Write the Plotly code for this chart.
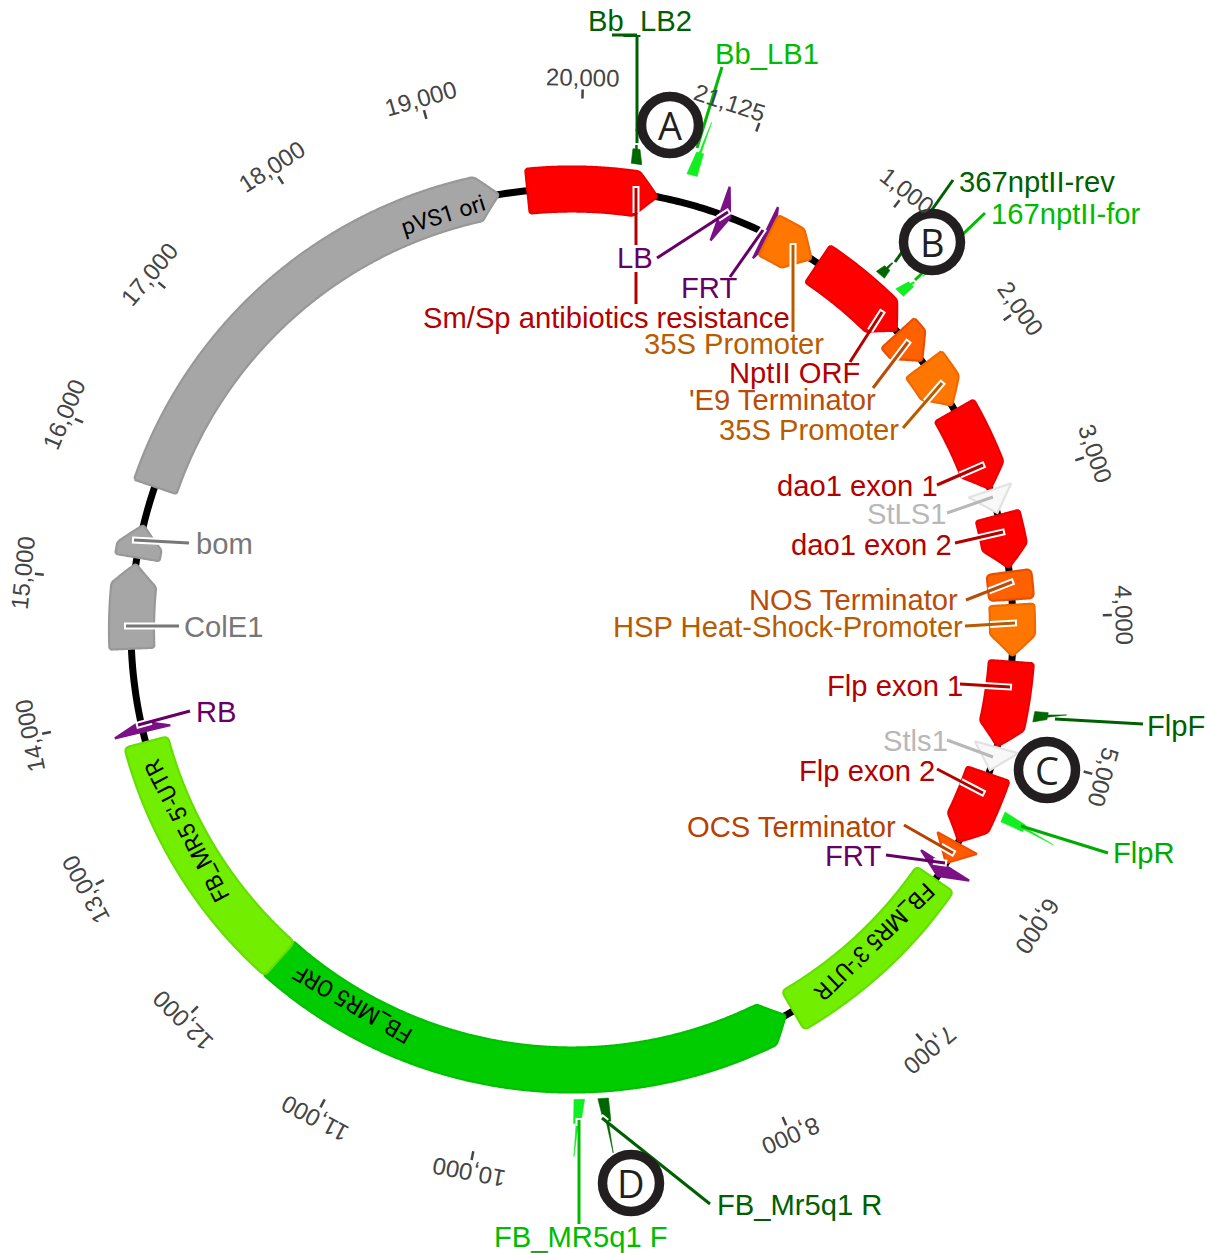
import numpy as np
import plotly.graph_objects as go

W, H = 1207, 1253
CX, CY, RMAX = 572.0, 629.5, 560.0
PLASMID_BP = 21125
ZERO_DEG = 20.3          # clock angle of bp 0
R_OUT, R_IN, R_MID = 463, 418, 441

# ---- features (bp)
feature_names = ["Sm/Sp", "LB", "FRT a", "35S a", "NptII", "E9", "35S b", "dao1 e1", "StLS1", "dao1 e2", "NOS", "HSP",
                 "Flp e1", "Stls1", "Flp e2", "OCS", "FRT b", "3UTR", "ORF", "5UTR", "RB", "ColE1", "bom", "pVS1"]
feature_start = [19593, 21084, 334, 364, 798, 1608, 1919, 2341, 3010, 3210, 3650, 3902,
                 4336, 5000, 5211, 5792, 5985, 6115, 7669, 11812, 13866, 14506, 15204, 15761]
feature_end = [20591, 41, 411, 739, 1590, 1890, 2300, 3004, 3192, 3621, 3861, 4295,
               4994, 5182, 5780, 5968, 6085, 7605, 11824, 13784, 13948, 15157, 15457, 19376]
feature_kind = ["arrow", "site", "site", "arrow", "arrow", "arrow", "arrow", "arrow", "tri", "arrow", "box", "arrow",
                "arrow", "tri", "arrow", "tri", "site", "box", "rev", "box", "site", "arrow", "arrow", "arrow"]
feature_fill = ["#ff0000", "#7b1185", "#7b1185", "#ff7700", "#ff0000", "#ff6000", "#ff7700", "#ff0000", "#f8f8f8", "#ff0000", "#ff6000", "#ff7700",
                "#ff0000", "#f8f8f8", "#ff0000", "#ff5a00", "#7b1185", "#72ee00", "#00cc00", "#72ee00", "#7b1185", "#a6a6a6", "#a6a6a6", "#a6a6a6"]
feature_line = ["#ea0000", "#7b1185", "#7b1185", "#f06800", "#ea0000", "#e85000", "#f06800", "#ea0000", "#e2e2e2", "#ea0000", "#e85000", "#f06800",
                "#ea0000", "#e2e2e2", "#ea0000", "#ee5000", "#7b1185", "#66de00", "#00c000", "#66de00", "#7b1185", "#989898", "#989898", "#989898"]

# ---- primers (bp of base, bp of tip, tip radius)
primer_names = ["Bb_LB2", "Bb_LB1", "367nptII-rev", "167nptII-for", "FlpF", "FlpR", "FB_MR5q1 F", "FB_Mr5q1 R"]
primer_base = [20397, 20802, 1215, 1402, 4718, 5469, 9319, 9148]
primer_tip = [20362, 20837, 1227, 1444, 4665, 5504, 9359, 9107]
primer_reach = [505, 526, 493, 503, 502, 527, 527, 525]
primer_color = ["#006600", "#11ee22", "#006600", "#11ee22", "#006600", "#11ee22", "#11ee22", "#006600"]

# ---- ticks
tick_bp = [1000 * i for i in range(1, 21)] + [21125]
tick_text = [f"{b:,}" for b in tick_bp]
hidden_tick_text = ["9,000"]   # lies under badge D in the picture

# ---- text in pixels of the picture: label, x, y, colour
labels = [
    ("Bb_LB2", 640, 21, "#005f00"), ("Bb_LB1", 767, 54, "#00bb00"),
    ("367nptII-rev", 1037, 182, "#005f00"), ("167nptII-for", 1066, 214, "#00bb00"),
    ("LB", 635, 258, "#660066"), ("FRT", 709, 288, "#660066"),
    ("Sm/Sp antibiotics resistance", 606, 318, "#b30000"), ("35S Promoter", 734, 344, "#b85c00"),
    ("NptII ORF", 794, 373, "#b30000"), ("'E9 Terminator", 782, 400, "#b84d0a"),
    ("35S Promoter", 809, 430, "#b85c00"), ("dao1 exon 1", 857, 486, "#b30000"),
    ("StLS1", 907, 514, "#b8b8b8"), ("dao1 exon 2", 871, 545, "#b30000"),
    ("NOS Terminator", 853, 600, "#b84d0a"), ("HSP Heat-Shock-Promoter", 788, 627, "#b85c00"),
    ("Flp exon 1", 895, 686, "#b30000"), ("FlpF", 1176, 726, "#005f00"),
    ("Stls1", 915, 741, "#b8b8b8"), ("Flp exon 2", 867, 771, "#b30000"),
    ("OCS Terminator", 791, 827, "#b84000"), ("FRT", 853, 856, "#660066"),
    ("FlpR", 1144, 853, "#00aa00"), ("FB_Mr5q1 R", 799, 1205, "#005f00"),
    ("FB_MR5q1 F", 581, 1237, "#00bb00"), ("bom", 224, 544, "#777777"),
    ("ColE1", 224, 627, "#777777"), ("RB", 216, 712, "#660066"),
]
# leader lines: outer x, y, anchor x, y, colour, white casing length
leaders = [
    (637, 35, 637, 143, "#005f00", 12), (722, 67, 697, 148, "#00bb00", 12),
    (953, 180, 895, 262, "#005f00", 8), (985, 213, 915, 280, "#00bb00", 8),
    (657, 258, 728, 212, "#660066", 12), (730, 277, 763, 230, "#660066", 12),
    (636, 304, 636, 272, "#b30000", 0), (636, 245, 636, 188, "#b30000", 25),
    (793, 332, 793, 245, "#b85c00", 25), (850, 362, 882, 312, "#b30000", 22),
    (873, 388, 908, 342, "#b84d0a", 25), (903, 428, 942, 383, "#b85c00", 25),
    (937, 485, 983, 465, "#b30000", 25), (947, 513, 993, 497, "#b8b8b8", 0),
    (955, 543, 1003, 532, "#b30000", 26), (966, 600, 1012, 582, "#b84d0a", 25),
    (965, 626, 1015, 623, "#b85c00", 25), (960, 684, 1010, 687, "#b30000", 30),
    (1143, 724, 1055, 719, "#005f00", 0), (947, 740, 993, 757, "#b8b8b8", 0),
    (937, 769, 983, 793, "#b30000", 25), (904, 825, 953, 853, "#b84000", 14),
    (886, 855, 945, 863, "#660066", 12), (1108, 853, 1021, 826, "#00aa00", 0),
    (710, 1204, 602, 1118, "#005f00", 6), (579, 1224, 579, 1120, "#00bb00", 6),
    (189, 543, 134, 540, "#777777", 28), (179, 626, 126, 626, "#777777", 30),
    (190, 711, 138, 725, "#660066", 14),
]
badges = [("A", 670, 125), ("B", 932, 242), ("C", 1047, 770), ("D", 631, 1183)]
band_labels = [("pVS1 ori", 18918), ("FB_MR5 5'-UTR", 13033), ("FB_MR5 ORF", 11149), ("FB_MR5 3'-UTR", 6778)]


def deg(bp):
    return np.asarray(bp, dtype=float) * 360.0 / PLASMID_BP


def to_px(bp, r):
    a = np.radians(deg(bp) + ZERO_DEG)
    return CX + r * np.sin(a), CY - r * np.cos(a)


def px(x):
    return x / W


def py(y):
    return 1 - y / H


HEAD = 164
BP_PX = 2 * np.pi * R_MID / PLASMID_BP


def rounded(t, r, window=9, step=1.2):
    """Even out a closed outline so its corners are soft, as in the drawing."""
    u = np.asarray(t, float) * BP_PX
    v = np.asarray(r, float)
    seg = np.hypot(np.diff(u), np.diff(v))
    s = np.concatenate([[0], np.cumsum(seg)])
    n = int(s[-1] / step)
    q = np.linspace(0, s[-1], n, endpoint=False)
    uu, vv = np.interp(q, s, u), np.interp(q, s, v)
    k = np.ones(window) / window
    pad = window
    uu2 = np.convolve(np.r_[uu[-pad:], uu, uu[:pad]], k, mode="same")[pad:-pad]
    vv2 = np.convolve(np.r_[vv[-pad:], vv, vv[:pad]], k, mode="same")[pad:-pad]
    return list(np.r_[uu2, uu2[0]] / BP_PX), list(np.r_[vv2, vv2[0]])


def outline(start, end, kind):
    if end < start:
        end += PLASMID_BP
    def arc(a, b, r):
        n = max(2, int(abs(b - a) / 30) + 2)
        return list(np.linspace(a, b, n)), [r] * n
    if kind == "site":
        return [start, end, start, start], [470, R_MID, 413, 470]
    if kind == "tri":
        return [start, end, start, start], [R_OUT, R_MID, R_IN, R_OUT]
    if kind == "box":
        t1, r1 = arc(start, end, R_OUT)
        t2, r2 = arc(end, start, R_IN)
        return rounded(t1 + t2 + [start], r1 + r2 + [R_OUT])
    if kind == "rev":
        t1, r1 = arc(start + HEAD, end, R_OUT)
        t2, r2 = arc(end, start + HEAD, R_IN)
        return rounded([start] + t1 + t2 + [start], [R_MID] + r1 + r2 + [R_MID], window=5)
    t1, r1 = arc(start, end - HEAD, R_OUT)
    t2, r2 = arc(end - HEAD, start, R_IN)
    return rounded(t1 + [end] + t2 + [start], r1 + [R_MID] + r2 + [R_OUT], window=5)


fig = go.Figure()
ring = np.linspace(0, PLASMID_BP, 721)
fig.add_trace(go.Scatterpolar(r=[R_MID] * len(ring), theta=deg(ring), mode="lines",
                              line=dict(color="black", width=7), hoverinfo="skip", showlegend=False))
for b in tick_bp:
    fig.add_trace(go.Scatterpolar(r=[531, 540], theta=deg([b, b]), mode="lines",
                                  line=dict(color="#444444", width=2.5), hoverinfo="skip", showlegend=False))
order = sorted(range(len(feature_names)), key=lambda i: feature_kind[i] != "site")
for i in order:
    t, r = outline(feature_start[i], feature_end[i], feature_kind[i])
    fig.add_trace(go.Scatterpolar(r=r, theta=deg(t), mode="lines", fill="toself", fillcolor=feature_fill[i],
                                  line=dict(color=feature_line[i], width=2.2), name=feature_names[i],
                                  hoverinfo="name", showlegend=False))
for i, name in enumerate(primer_names):
    b, tp, reach = primer_base[i], primer_tip[i], primer_reach[i]
    w = 38
    rm = 470 + (reach - 470) * 0.42
    tm = b + (tp - b) * 0.42
    t = [b - w, b + w, tm + w * 0.65, tm + w * 0.2, tp, tm - w * 0.2, tm - w * 0.65, b - w]
    r = [470, 470, rm, rm, reach, rm, rm, 470]
    fig.add_trace(go.Scatterpolar(r=r, theta=deg(t), mode="lines", fill="toself", fillcolor=primer_color[i],
                                  line=dict(color=primer_color[i], width=0.6), name=name,
                                  hoverinfo="name", showlegend=False))

annotations = []
for b, s in zip(tick_bp, tick_text):
    if s in hidden_tick_text:
        continue
    a = float(deg(b)) + ZERO_DEG
    if b == PLASMID_BP:
        x, y = to_px(b - 215, 550)
        angle = 18
    else:
        x, y = to_px(b, 552)
        angle = a
    annotations.append(dict(x=px(float(x)), y=py(float(y)), xref="paper", yref="paper", text=s, showarrow=False,
                            textangle=((angle + 180) % 360) - 180, xanchor="center", yanchor="middle",
                            font=dict(family="Liberation Sans", size=24, color="#444444")))
for s, b in band_labels:
    x, y = to_px(b, 434)
    a = float(deg(b)) + ZERO_DEG
    annotations.append(dict(x=px(float(x)), y=py(float(y)), xref="paper", yref="paper", text=s, showarrow=False,
                            textangle=((a + 180) % 360) - 180, xanchor="center", yanchor="middle",
                            font=dict(family="Roboto", size=23, color="black")))
for s, x, y, c in labels:
    annotations.append(dict(x=px(x), y=py(y), xref="paper", yref="paper", text=s, showarrow=False,
                            xanchor="center", yanchor="middle",
                            font=dict(family="Liberation Sans", size=29.2, color=c)))
for s, x, y in badges:
    annotations.append(dict(x=px(x), y=py(y), xref="paper", yref="paper", text=s, showarrow=False,
                            xanchor="center", yanchor="middle",
                            font=dict(family="Open Sans", size=38, color="#231f20")))

shapes = []
for x0, y0, x1, y1, c, cas in leaders:
    L = np.hypot(x1 - x0, y1 - y0)
    if cas:
        xc = x1 + (x0 - x1) * cas / L
        yc = y1 + (y0 - y1) * cas / L
        xe = x1 + (x1 - x0) * 2 / L
        ye = y1 + (y1 - y0) * 2 / L
        shapes.append(dict(type="line", xref="paper", yref="paper", x0=px(xc), y0=py(yc), x1=px(xe), y1=py(ye),
                           line=dict(color="white", width=7)))
    shapes.append(dict(type="line", xref="paper", yref="paper", x0=px(x0), y0=py(y0), x1=px(x1), y1=py(y1),
                       line=dict(color=c, width=3)))
shapes.append(dict(type="line", xref="paper", yref="paper", x0=px(612), y0=py(35), x1=px(637), y1=py(35),
                   line=dict(color="#005f00", width=3)))
for s, x, y in badges:
    rad = 28.5
    shapes.append(dict(type="circle", xref="paper", yref="paper", x0=px(x - rad), x1=px(x + rad),
                       y0=py(y + rad), y1=py(y - rad), fillcolor="white", line=dict(color="#231f20", width=9.5)))

fig.update_layout(
    width=W, height=H, margin=dict(l=0, r=0, t=0, b=0), paper_bgcolor="white", showlegend=False,
    polar=dict(
        domain=dict(x=[(CX - RMAX) / W, (CX + RMAX) / W], y=[1 - (CY + RMAX) / H, 1 - (CY - RMAX) / H]),
        bgcolor="rgba(0,0,0,0)",
        radialaxis=dict(range=[0, RMAX], visible=False),
        angularaxis=dict(visible=False, direction="clockwise", rotation=90 - ZERO_DEG, thetaunit="degrees"),
    ),
    annotations=annotations, shapes=shapes,
)
fig.write_html("out.html", config={"displayModeBar": False},
               post_script="document.body.style.margin='0';document.documentElement.style.overflow='hidden';")
